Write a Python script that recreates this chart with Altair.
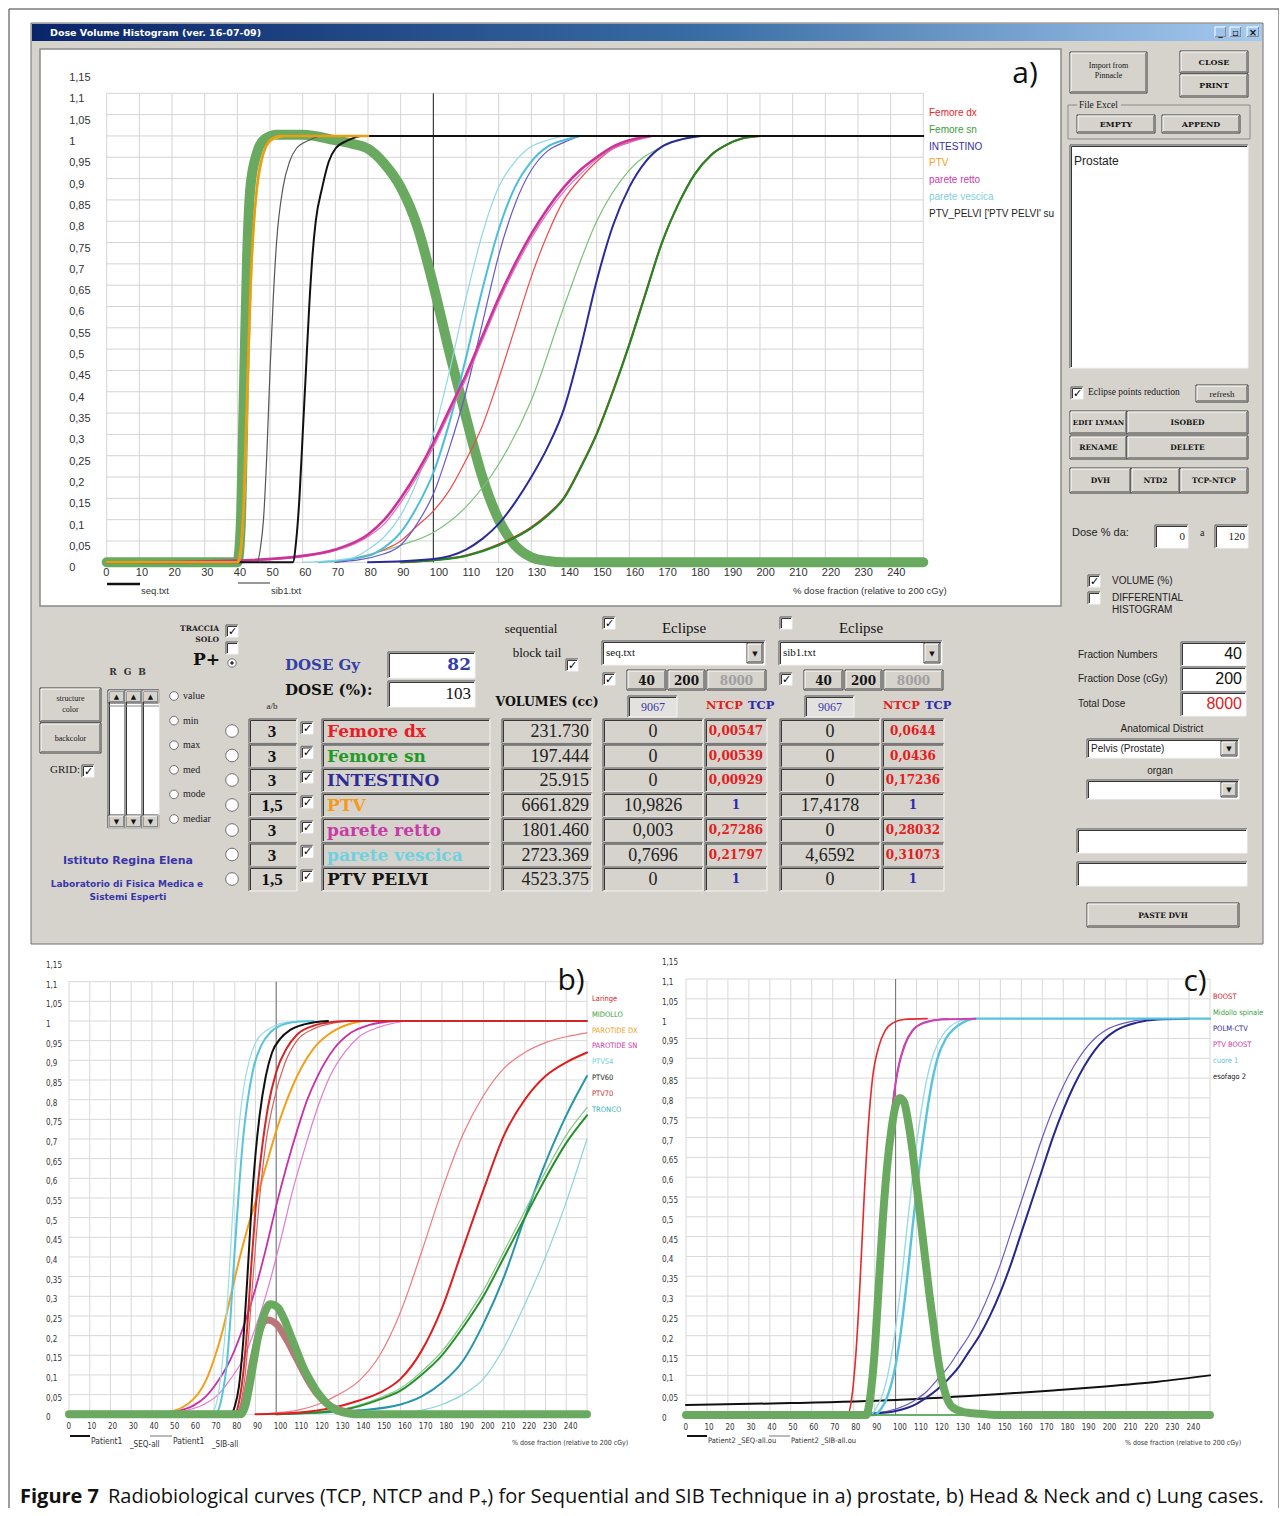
import altair as alt
import pandas as pd

OFF = 8
W, H = 1271, 1500

SANS = "Liberation Sans, Arial, sans-serif"
OPEN = "Open Sans, Liberation Sans, sans-serif"
NARROW = "Liberation Sans Narrow, DejaVu Sans Condensed, Liberation Sans, sans-serif"
SERIF = "Liberation Serif, Times New Roman, serif"
DSERIF = "DejaVu Serif, serif"
DSANS = "DejaVu Sans, sans-serif"
BG = "#d6d3cd"

# ------------------------------------------------------------------ DATA
X_TICKS = [0, 10, 20, 30, 40, 50, 60, 70, 80, 90, 100, 110, 120, 130, 140, 150,
           160, 170, 180, 190, 200, 210, 220, 230, 240]
GRID_X = X_TICKS + [250]
Y_TICKS = [0, 0.05, 0.1, 0.15, 0.2, 0.25, 0.3, 0.35, 0.4, 0.45, 0.5, 0.55, 0.6,
           0.65, 0.7, 0.75, 0.8, 0.85, 0.9, 0.95, 1.0, 1.05, 1.1, 1.15]
Y_LABELS = ["0", "0,05", "0,1", "0,15", "0,2", "0,25", "0,3", "0,35", "0,4", "0,45",
            "0,5", "0,55", "0,6", "0,65", "0,7", "0,75", "0,8", "0,85", "0,9", "0,95",
            "1", "1,05", "1,1", "1,15"]
GRID_Y = Y_TICKS[:-1]

# ---- panel a) prostate
A_PPLUS = [(0, 0), (40, 0), (41, 0.08), (42, 0.4), (43, 0.72), (44, 0.88), (46, 0.96), (48, 0.99),
           (52, 1.003), (60, 1.003), (70, 0.99), (75, 0.982), (80, 0.97), (85, 0.935), (90, 0.88),
           (95, 0.79), (100, 0.65), (105, 0.49), (110, 0.34), (115, 0.2), (120, 0.1), (125, 0.04),
           (130, 0.012), (135, 0.003), (140, 0), (250, 0)]
A_PTV_SEQ = [(0, 0), (40, 0), (41, 0.03), (42, 0.15), (43, 0.4), (44, 0.64), (45, 0.79), (46, 0.88),
             (48, 0.96), (50, 0.99), (53, 1.0), (80, 1.0)]
A_PTV_SIB = [(0, 0), (40.5, 0), (41.5, 0.05), (42.5, 0.2), (43.5, 0.47), (44.5, 0.7), (45.5, 0.83),
             (47, 0.92), (49, 0.975), (52, 0.995), (56, 1.0), (70, 1.0)]
A_PELVI_SIB = [(0, 0), (46, 0), (47, 0.03), (48, 0.1), (49, 0.25), (50, 0.45), (51, 0.62), (52, 0.75),
               (54, 0.88), (56, 0.94), (58, 0.97), (62, 0.99), (66, 1.0), (80, 1.0)]
A_PELVI_SEQ = [(0, 0), (57, 0), (58, 0.05), (59, 0.15), (60, 0.3), (61, 0.45), (62, 0.6), (63, 0.72),
               (64, 0.8), (66, 0.88), (68, 0.94), (70, 0.97), (74, 0.99), (78, 1.0), (250, 1.0)]
A_RET_SEQ = [(10, 0), (40, 0.004), (60, 0.015), (70, 0.03), (80, 0.065), (85, 0.1), (90, 0.15),
             (95, 0.21), (100, 0.28), (105, 0.36), (110, 0.44), (115, 0.53), (120, 0.62), (125, 0.7),
             (130, 0.77), (135, 0.83), (140, 0.88), (145, 0.92), (150, 0.95), (155, 0.975),
             (160, 0.99), (166, 1.0)]
A_RET_SIB = [(12, 0), (40, 0.003), (60, 0.013), (70, 0.027), (80, 0.06), (85, 0.09), (90, 0.14),
             (95, 0.2), (100, 0.27), (105, 0.35), (110, 0.43), (115, 0.52), (120, 0.61), (125, 0.69),
             (130, 0.76), (135, 0.82), (140, 0.87), (145, 0.91), (150, 0.945), (155, 0.97),
             (160, 0.985), (168, 1.0)]
A_VES_SIB = [(60, 0), (75, 0.01), (80, 0.03), (85, 0.06), (90, 0.11), (95, 0.19), (100, 0.3),
             (105, 0.45), (110, 0.62), (115, 0.77), (120, 0.88), (125, 0.94), (130, 0.975),
             (135, 0.99), (140, 1.0)]
A_VES_SEQ = [(65, 0), (80, 0.015), (85, 0.035), (90, 0.07), (95, 0.13), (100, 0.21), (105, 0.33),
             (110, 0.48), (115, 0.64), (120, 0.78), (125, 0.88), (130, 0.94), (135, 0.975),
             (140, 0.99), (145, 1.0)]
A_INT_SIB = [(70, 0), (85, 0.02), (90, 0.04), (95, 0.09), (100, 0.16), (105, 0.27), (110, 0.4),
             (115, 0.56), (120, 0.72), (125, 0.84), (130, 0.92), (135, 0.965), (140, 0.985),
             (145, 1.0)]
A_INT_SEQ = [(80, 0), (100, 0.008), (110, 0.03), (115, 0.055), (120, 0.09), (125, 0.14), (130, 0.2),
             (135, 0.27), (140, 0.36), (145, 0.5), (150, 0.66), (155, 0.79), (160, 0.88),
             (165, 0.94), (170, 0.975), (175, 0.99), (182, 1.0)]
A_FEMDX_SIB = [(70, 0), (85, 0.03), (90, 0.05), (95, 0.085), (100, 0.12), (105, 0.17), (110, 0.24),
               (115, 0.32), (120, 0.43), (125, 0.55), (130, 0.67), (135, 0.77), (140, 0.85),
               (145, 0.9), (150, 0.94), (155, 0.97), (160, 0.985), (166, 1.0)]
A_FEMSN_SIB = [(70, 0), (90, 0.04), (100, 0.07), (110, 0.13), (120, 0.23), (130, 0.38), (140, 0.6),
               (150, 0.8), (160, 0.92), (170, 0.975), (180, 1.0)]
A_FEMDX_SEQ = [(90, 0), (100, 0.005), (110, 0.016), (120, 0.042), (130, 0.082), (135, 0.112),
               (140, 0.152), (145, 0.222), (150, 0.302), (155, 0.402), (160, 0.512), (165, 0.632),
               (170, 0.75), (175, 0.84), (180, 0.91), (185, 0.955), (190, 0.98), (195, 0.995),
               (200, 1.0)]
A_FEMSN_SEQ = [(90, 0), (100, 0.005), (110, 0.015), (120, 0.04), (130, 0.08), (135, 0.11),
               (140, 0.15), (145, 0.22), (150, 0.3), (155, 0.4), (160, 0.51), (165, 0.63),
               (170, 0.75), (175, 0.84), (180, 0.91), (185, 0.955), (190, 0.98), (195, 0.995),
               (200, 1.0)]

# ---- panel b) head & neck
B_PTV54_SIB = [(0, 0), (68, 0), (70, 0.01), (72, 0.05), (74, 0.13), (76, 0.25), (78, 0.42), (80, 0.6),
               (82, 0.73), (84, 0.82), (87, 0.9), (90, 0.945), (95, 0.975), (100, 0.99),
               (107, 0.998), (115, 1.0)]
B_PTV54_SEQ = [(0, 0), (70, 0), (72, 0.01), (74, 0.05), (76, 0.12), (78, 0.25), (80, 0.42),
               (82, 0.57), (84, 0.7), (86, 0.79), (89, 0.88), (93, 0.94), (97, 0.97), (102, 0.988),
               (110, 0.998), (118, 1.0)]
B_PTV60 = [(0, 0), (78, 0), (80, 0.02), (82, 0.07), (84, 0.18), (86, 0.34), (88, 0.52), (90, 0.66),
           (92, 0.76), (95, 0.86), (98, 0.92), (102, 0.955), (107, 0.978), (114, 0.992), (125, 1.0)]
B_PTV70_SEQ = [(0, 0), (80, 0), (82, 0.03), (84, 0.1), (86, 0.22), (88, 0.38), (90, 0.52), (93, 0.67),
               (96, 0.78), (100, 0.87), (105, 0.93), (110, 0.965), (118, 0.988), (128, 0.998),
               (135, 1.0), (250, 1.0)]
B_PTV70_SIB = [(0, 0), (81, 0), (83, 0.03), (85, 0.1), (87, 0.22), (89, 0.36), (92, 0.55), (95, 0.69),
               (99, 0.8), (104, 0.89), (110, 0.95), (118, 0.98), (128, 0.995), (138, 1.0)]
B_PAROT_DX = [(38, 0), (50, 0.008), (57, 0.025), (62, 0.05), (66, 0.085), (70, 0.14), (74, 0.21),
              (78, 0.3), (82, 0.39), (86, 0.47), (90, 0.54), (95, 0.63), (100, 0.72), (106, 0.81),
              (112, 0.88), (118, 0.93), (125, 0.965), (133, 0.988), (142, 1.0)]
B_PAROT_SN_SEQ = [(38, 0), (50, 0.006), (60, 0.022), (66, 0.045), (72, 0.085), (78, 0.14), (84, 0.22),
                  (90, 0.32), (95, 0.42), (100, 0.53), (105, 0.63), (110, 0.72), (115, 0.8),
                  (120, 0.86), (128, 0.93), (136, 0.97), (145, 0.99), (157, 1.0)]
B_PAROT_SN_SIB = [(42, 0), (55, 0.008), (65, 0.025), (72, 0.05), (78, 0.09), (84, 0.14), (90, 0.22),
                  (96, 0.32), (102, 0.44), (108, 0.57), (114, 0.68), (120, 0.78), (126, 0.86),
                  (133, 0.92), (140, 0.96), (150, 0.985), (163, 1.0)]
B_LARINGE_SIB = [(90, 0), (100, 0.004), (110, 0.01), (120, 0.025), (130, 0.05), (140, 0.085),
                 (150, 0.15), (160, 0.26), (170, 0.41), (180, 0.57), (190, 0.71), (200, 0.81),
                 (210, 0.88), (220, 0.92), (230, 0.945), (240, 0.96), (250, 0.97)]
B_LARINGE_SEQ = [(90, 0), (110, 0.004), (120, 0.01), (130, 0.02), (140, 0.035), (150, 0.055),
                 (160, 0.09), (170, 0.16), (180, 0.27), (190, 0.42), (200, 0.57), (210, 0.71),
                 (220, 0.8), (230, 0.86), (240, 0.895), (250, 0.92)]
B_TRONCO_SEQ = [(100, 0), (120, 0.004), (140, 0.01), (160, 0.025), (170, 0.045), (180, 0.08),
                (190, 0.135), (200, 0.23), (210, 0.35), (220, 0.5), (230, 0.64), (240, 0.76),
                (250, 0.86)]
B_TRONCO_SIB = [(150, 0), (170, 0.01), (180, 0.025), (190, 0.05), (200, 0.09), (210, 0.17),
                (220, 0.28), (230, 0.4), (240, 0.54), (250, 0.7)]
B_MIDOLLO_SEQ = [(100, 0), (120, 0.005), (133, 0.012), (150, 0.038), (160, 0.06), (170, 0.1),
                 (180, 0.15), (190, 0.22), (200, 0.3), (210, 0.4), (220, 0.5), (230, 0.6),
                 (240, 0.69), (250, 0.76)]
B_MIDOLLO_SIB = [(100, 0), (120, 0.006), (133, 0.014), (150, 0.042), (160, 0.066), (170, 0.108),
                 (180, 0.16), (190, 0.232), (200, 0.315), (210, 0.415), (220, 0.517), (230, 0.617),
                 (240, 0.71), (250, 0.78)]
B_PPLUS_SIB = [(0, 0), (82, 0), (84, 0.02), (86, 0.06), (88, 0.12), (90, 0.17), (92, 0.21),
               (94, 0.235), (96, 0.24), (100, 0.23), (105, 0.19), (110, 0.14), (115, 0.09),
               (120, 0.05), (125, 0.025), (130, 0.012), (135, 0.005), (142, 0)]
B_PPLUS_SEQ = [(0, 0), (83, 0), (85, 0.02), (87, 0.07), (89, 0.13), (91, 0.19), (93, 0.235),
               (95, 0.265), (97, 0.28), (99, 0.278), (101, 0.27), (104, 0.24), (107, 0.2),
               (110, 0.16), (113, 0.12), (116, 0.09), (120, 0.055), (124, 0.03), (128, 0.013),
               (133, 0.004), (138, 0), (250, 0)]

# ---- panel c) lung
C_ESOFAGO = [(0, 0.025), (50, 0.03), (100, 0.038), (150, 0.053), (175, 0.062), (200, 0.072),
             (225, 0.084), (250, 0.1)]
C_POLM_SIB = [(45, 0), (90, 0.005), (100, 0.015), (110, 0.04), (115, 0.06), (120, 0.09), (125, 0.12),
              (130, 0.16), (135, 0.2), (140, 0.25), (145, 0.31), (150, 0.38), (155, 0.46),
              (160, 0.54), (165, 0.62), (170, 0.7), (175, 0.77), (180, 0.83), (185, 0.88),
              (190, 0.92), (195, 0.95), (200, 0.97), (210, 0.99), (220, 0.998), (235, 1.0)]
C_POLM_SEQ = [(45, 0), (90, 0.004), (100, 0.01), (110, 0.028), (115, 0.045), (120, 0.065),
              (125, 0.09), (130, 0.12), (135, 0.16), (140, 0.2), (145, 0.25), (150, 0.31),
              (155, 0.38), (160, 0.46), (165, 0.54), (170, 0.62), (175, 0.7), (180, 0.77),
              (185, 0.83), (190, 0.88), (195, 0.92), (200, 0.95), (205, 0.97), (215, 0.99),
              (225, 0.998), (240, 1.0)]
C_CUORE_SIB = [(0, 0), (88, 0), (91, 0.02), (94, 0.055), (97, 0.12), (100, 0.22), (103, 0.35),
               (106, 0.5), (109, 0.64), (112, 0.76), (115, 0.85), (118, 0.91), (122, 0.955),
               (126, 0.98), (131, 0.995), (137, 1.0)]
C_CUORE_SEQ = [(0, 0), (90, 0), (93, 0.015), (96, 0.045), (99, 0.1), (102, 0.19), (105, 0.32),
               (108, 0.47), (111, 0.61), (114, 0.73), (117, 0.83), (120, 0.9), (124, 0.95),
               (128, 0.975), (132, 0.99), (138, 1.0), (250, 1.0)]
C_BOOST = [(0, 0), (77, 0), (79, 0.04), (81, 0.15), (83, 0.33), (85, 0.55), (87, 0.73), (89, 0.85),
           (92, 0.93), (95, 0.97), (99, 0.99), (104, 0.998), (115, 1.0)]
C_PTVBOOST_SIB = [(0, 0), (87.5, 0), (89.5, 0.06), (91.5, 0.2), (93.5, 0.4), (95.5, 0.58),
                  (97.5, 0.72), (99.5, 0.82), (102, 0.89), (105, 0.94), (109, 0.975), (115, 0.993),
                  (125, 1.0)]
C_PTVBOOST_SEQ = [(0, 0), (87, 0), (89, 0.05), (91, 0.17), (93, 0.37), (95, 0.55), (97, 0.7),
                  (99, 0.8), (101, 0.87), (104, 0.93), (108, 0.97), (114, 0.99), (122, 0.998),
                  (138, 1.0)]
C_MIDOLLO = [(0, 0), (250, 0)]
C_PPLUS = [(0, 0), (86, 0), (88, 0.05), (90, 0.16), (92, 0.33), (94, 0.5), (96, 0.63), (98, 0.72),
           (100, 0.78), (102, 0.8), (104, 0.79), (106, 0.74), (108, 0.67), (110, 0.58), (112, 0.49),
           (114, 0.4), (116, 0.31), (118, 0.23), (120, 0.15), (122, 0.09), (124, 0.05),
           (127, 0.02), (132, 0.008), (140, 0.003), (150, 0), (250, 0)]

# ---- legends
A_LEGEND = ["Femore dx", "Femore sn", "INTESTINO", "PTV", "parete retto", "parete vescica",
            "PTV_PELVI ['PTV PELVI' su"]
B_LEGEND = ["Laringe", "MIDOLLO", "PAROTIDE DX", "PAROTIDE SN", "PTV54", "PTV60", "PTV70", "TRONCO"]
C_LEGEND = ["BOOST", "Midollo spinale", "POLM-CTV", "PTV BOOST", "cuore 1", "esofago 2"]

# ---- GUI table values
ORGANS = ["Femore dx", "Femore sn", "INTESTINO", "PTV", "parete retto", "parete vescica", "PTV  PELVI"]
AB = ["3", "3", "3", "1,5", "3", "3", "1,5"]
VOLUMES = ["231.730", "197.444", "25.915", "6661.829", "1801.460", "2723.369", "4523.375"]
SEQ_VAL = ["0", "0", "0", "10,9826", "0,003", "0,7696", "0"]
SEQ_NTCP = ["0,00547", "0,00539", "0,00929", "1", "0,27286", "0,21797", "1"]
SIB_VAL = ["0", "0", "0", "17,4178", "0", "4,6592", "0"]
SIB_NTCP = ["0,0644", "0,0436", "0,17236", "1", "0,28032", "0,31073", "1"]
RADIO_LABELS = ["value", "min", "max", "med", "mode", "mediar"]

# ---- styles (kept apart from the data)
C_RED, C_ORANGE, C_MAG = "#e8262e", "#f2a01c", "#cc3aa6"
ORGAN_COLORS = ["#ea1c24", "#1f9a25", "#2e2a98", "#f59a16", "#c83aa8", "#6fd0e0", "#141414"]
A_LEG_COLORS = [C_RED, "#3aa03a", "#34309c", C_ORANGE, C_MAG, "#7fd0e0", "#222222"]
B_LEG_COLORS = ["#e02030", "#3c9e3c", "#f2a01c", "#c83aa8", "#70cde0", "#222222", "#cc2b2b", "#40b0c0"]
C_LEG_COLORS = ["#e02030", "#3c9e3c", "#2e2a98", "#c83aa8", "#60c8dc", "#222222"]
PPLUS_GREEN = "#6aaa60"

A_SERIES = [
    (A_PPLUS, PPLUS_GREEN, 10),
    (A_FEMDX_SEQ, "#d83030", 2),
    (A_FEMSN_SEQ, "#1c8c22", 2),
    (A_FEMSN_SIB, "#78c278", 1.2),
    (A_FEMDX_SIB, "#f04848", 1.2),
    (A_INT_SEQ, "#2a2a9c", 2),
    (A_INT_SIB, "#6858c8", 1.2),
    (A_VES_SEQ, "#4cbfd8", 2),
    (A_VES_SIB, "#90d8e8", 1.2),
    (A_RET_SIB, "#e070c4", 1.2),
    (A_RET_SEQ, "#cc3399", 2.6),
    (A_PELVI_SIB, "#555555", 1.2),
    (A_PELVI_SEQ, "#111111", 2),
    (A_PTV_SIB, "#f4b840", 1.2),
    (A_PTV_SEQ, "#e8a010", 2.6),
]
B_SERIES = [
    (B_TRONCO_SIB, "#8ad4dc", 1.2),
    (B_TRONCO_SEQ, "#2596aa", 2),
    (B_MIDOLLO_SIB, "#86c686", 1.2),
    (B_MIDOLLO_SEQ, "#23902a", 2),
    (B_LARINGE_SIB, "#f07880", 1.2),
    (B_LARINGE_SEQ, "#e01c1c", 2),
    (B_PAROT_SN_SIB, "#e27ad0", 1.2),
    (B_PAROT_SN_SEQ, "#c830a8", 1.8),
    (B_PAROT_DX, "#f2a01c", 2),
    (B_PTV54_SIB, "#9adbe8", 1.2),
    (B_PTV54_SEQ, "#55c4dc", 2),
    (B_PTV70_SIB, "#d86060", 1.2),
    (B_PTV70_SEQ, "#d02828", 2),
    (B_PTV60, "#111111", 2),
    (B_PPLUS_SIB, "#b87878", 7),
    (B_PPLUS_SEQ, PPLUS_GREEN, 8),
]
C_SERIES = [
    (C_ESOFAGO, "#111111", 2),
    (C_POLM_SIB, "#6a5ac0", 1.2),
    (C_POLM_SEQ, "#26268e", 2),
    (C_CUORE_SIB, "#9adbe8", 1.4),
    (C_CUORE_SEQ, "#55c4dc", 2.4),
    (C_BOOST, "#e8262e", 1.6),
    (C_PTVBOOST_SIB, "#9a40b8", 1.4),
    (C_PTVBOOST_SEQ, "#d040b0", 2),
    (C_MIDOLLO, "#3c9e3c", 1.5),
    (C_PPLUS, PPLUS_GREEN, 8),
]

# ------------------------------------------------------------------ helpers
rects, segs, texts, circles = [], [], [], []


def rect(x1, y1, x2, y2, fill, stroke="transparent", sw=0.0):
    rects.append({"x": x1, "y": y1, "x2": x2, "y2": y2, "fill": fill, "stroke": stroke, "sw": sw})


def seg(x1, y1, x2, y2, color, w=1.0):
    segs.append({"x": x1, "y": y1, "x2": x2, "y2": y2, "c": color, "w": w})


def txt(x, y, t, c="#000000", s=10, font=SANS, weight="normal", align="left"):
    texts.append({"x": x, "y": y, "t": t, "c": c, "s": s, "font": font, "weight": weight,
                  "align": align})


def raised(x1, y1, x2, y2, label=None, size=8, font=DSERIF, weight="bold", color="#151515"):
    rect(x1, y1, x2, y2, BG, "#3c3c3c", 1)
    seg(x1 + 1, y1 + 1, x2 - 1, y1 + 1, "#ffffff")
    seg(x1 + 1, y1 + 1, x1 + 1, y2 - 1, "#ffffff")
    seg(x1 + 1, y2 - 1.5, x2 - 1, y2 - 1.5, "#8a8a8a")
    seg(x2 - 1.5, y1 + 1, x2 - 1.5, y2 - 1, "#8a8a8a")
    if label is not None:
        txt((x1 + x2) / 2, (y1 + y2) / 2 + 0.5, label, color, size, font, weight, "center")


def sunken(x1, y1, x2, y2, fill="#ffffff"):
    rect(x1, y1, x2, y2, fill)
    seg(x1, y1, x2, y1, "#7a7a7a", 1.5)
    seg(x1, y1, x1, y2, "#7a7a7a", 1.5)
    seg(x1 + 1.5, y1 + 1.5, x2 - 1, y1 + 1.5, "#363636", 1)
    seg(x1 + 1.5, y1 + 1.5, x1 + 1.5, y2 - 1, "#363636", 1)
    seg(x1, y2, x2, y2, "#f4f4f4", 1)
    seg(x2, y1, x2, y2, "#f4f4f4", 1)


def check(x, y, on):
    sunken(x, y, x + 12, y + 12)
    if on:
        txt(x + 6.5, y + 6.5, "✓", "#000000", 11, DSANS, "bold", "center")


def radio(x, y, on=False, s=110):
    circles.append({"x": x, "y": y, "s": s, "f": "#ffffff"})
    if on:
        circles.append({"x": x, "y": y, "s": 8, "f": "#000000"})


def dropdown(x1, y1, x2, y2, label):
    sunken(x1, y1, x2, y2)
    raised(x2 - 18, y1 + 2, x2 - 2, y2 - 2, "▼", 7, DSANS, "normal")
    if label:
        txt(x1 + 4, (y1 + y2) / 2, label, "#111111", 11, SERIF)


# ------------------------------------------------------------------ GUI window
rect(9, 9, 1279, 1530, "#ffffff", "#3a3a3a", 1)
rect(31, 23, 1263, 944, BG, "#707070", 1)
rect(40, 49, 1061, 606, "#ffffff", "#8a8a8a", 1.5)
txt(50, 32.5, "Dose Volume Histogram (ver. 16-07-09)", "#ffffff", 9.5, DSANS, "bold")
raised(1214, 26, 1227, 38, "_", 9, DSANS)
raised(1229, 26, 1242, 38, "▫", 10, DSANS)
raised(1246, 26, 1260, 38, "×", 10, DSANS)

# right column
raised(1070, 52, 1147, 93)
txt(1108.5, 66, "Import from", "#151515", 8, SERIF, "normal", "center")
txt(1108.5, 76, "Pinnacle", "#151515", 8, SERIF, "normal", "center")
raised(1180, 51, 1248, 73, "CLOSE", 8)
raised(1180, 74, 1248, 97, "PRINT", 8)
rect(1068, 105, 1250, 139, "transparent", "#8a8a8a", 1)
rect(1077, 99, 1121, 111, BG)
txt(1079, 105, "File Excel", "#151515", 9.5, SERIF)
raised(1077, 115, 1155, 133, "EMPTY", 8)
raised(1162, 115, 1240, 133, "APPEND", 8)
sunken(1070, 145, 1248, 368)
txt(1074, 161, "Prostate", "#222222", 12, SANS)
check(1071, 387, True)
txt(1088, 392, "Eclipse points reduction", "#151515", 9.5, SERIF)
raised(1196, 385, 1248, 402, "refresh", 9, SERIF, "normal")
raised(1070, 411, 1127, 434, "EDIT LYMAN", 7)
raised(1127, 411, 1248, 434, "ISOBED", 7.5)
raised(1070, 436, 1127, 459, "RENAME", 7.5)
raised(1127, 436, 1248, 459, "DELETE", 7.5)
raised(1070, 468, 1131, 493, "DVH", 7.5)
raised(1131, 468, 1180, 493, "NTD2", 7.5)
raised(1180, 468, 1248, 493, "TCP-NTCP", 7.5)
txt(1072, 533, "Dose % da:", "#222222", 11, SANS)
sunken(1155, 525, 1188, 548)
txt(1185, 537, "0", "#222222", 11, SERIF, "normal", "right")
txt(1200, 533, "a", "#222222", 10, SERIF)
sunken(1215, 525, 1248, 548)
txt(1245, 537, "120", "#222222", 11, SERIF, "normal", "right")
check(1088, 575, True)
txt(1112, 581, "VOLUME (%)", "#222222", 10, SANS)
check(1088, 592, False)
txt(1112, 598, "DIFFERENTIAL", "#222222", 10, SANS)
txt(1112, 610, "HISTOGRAM", "#222222", 10, SANS)

txt(1078, 655, "Fraction Numbers", "#222222", 10, SANS)
sunken(1181, 642, 1246, 666)
txt(1242, 654, "40", "#111111", 16, SANS, "normal", "right")
txt(1078, 679, "Fraction Dose (cGy)", "#222222", 10, SANS)
sunken(1181, 667, 1246, 691)
txt(1242, 679, "200", "#111111", 16, SANS, "normal", "right")
txt(1078, 704, "Total Dose", "#222222", 10, SANS)
sunken(1181, 692, 1246, 716)
txt(1242, 704, "8000", "#e02020", 16, SANS, "normal", "right")
txt(1162, 729, "Anatomical District", "#222222", 10, SANS, "normal", "center")
dropdown(1087, 739, 1239, 758, None)
txt(1091, 748.5, "Pelvis (Prostate)", "#222222", 10, SANS)
txt(1160, 771, "organ", "#222222", 10, SANS, "normal", "center")
dropdown(1087, 780, 1239, 799, None)
sunken(1077, 829, 1247, 853)
sunken(1077, 862, 1247, 886)
raised(1087, 903, 1239, 927, "PASTE DVH", 7.5)

# left controls
txt(219, 629, "TRACCIA", "#222222", 7.5, DSERIF, "bold", "right")
txt(219, 640, "SOLO", "#222222", 7.5, DSERIF, "bold", "right")
check(226, 625, True)
check(226, 642, False)
txt(193, 660, "P+", "#111111", 17, DSERIF, "bold")
radio(232, 663, True, 70)
for i, ch in enumerate(["R", "G", "B"]):
    txt(113 + 14.5 * i, 672, ch, "#333333", 9, DSERIF, "bold", "center")
raised(40, 688, 101, 722)
txt(70.5, 699, "structure", "#222222", 8, SERIF, "normal", "center")
txt(70.5, 710, "color", "#222222", 8, SERIF, "normal", "center")
raised(40, 723, 101, 753, "backcolor", 8, SERIF, "normal")
txt(50, 770, "GRID:", "#222222", 11, SERIF)
check(82, 765, True)
for i in range(3):
    xa = 108 + 17 * i
    sunken(xa, 690, xa + 17, 828)
    raised(xa, 690, xa + 17, 703, "▲", 7, DSANS, "normal")
    seg(xa, 706, xa + 17, 706, "#888888", 1)
    raised(xa, 815, xa + 17, 828, "▼", 7, DSANS, "normal")
for i, lab in enumerate(RADIO_LABELS):
    yy = 696 + 24.6 * i
    radio(174, yy, False, 75)
    txt(183, yy, lab, "#222222", 10, SERIF)
txt(128, 861, "Istituto Regina Elena", "#3a36a8", 11, DSANS, "bold", "center")
txt(127, 884, "Laboratorio di Fisica Medica e", "#3a36a8", 9, DSANS, "bold", "center")
txt(128, 897, "Sistemi Esperti", "#3a36a8", 9, DSANS, "bold", "center")

txt(285, 665, "DOSE Gy", "#3440a8", 15, DSERIF, "bold")
sunken(388, 652, 475, 678)
txt(471, 665, "82", "#3440a8", 17, DSERIF, "bold", "right")
txt(285, 690, "DOSE (%):", "#111111", 15, DSERIF, "bold")
sunken(388, 681, 475, 707)
txt(471, 694, "103", "#111111", 17, SERIF, "normal", "right")
txt(272, 706, "a/b", "#222222", 9, SERIF, "normal", "center")

txt(547, 702, "VOLUMES (cc)", "#111111", 12.5, DSERIF, "bold", "center")
txt(531, 629, "sequential", "#111111", 13, SERIF, "normal", "center")
txt(537, 653, "block tail", "#111111", 13, SERIF, "normal", "center")
check(566, 659, True)

for gx, name, chk in [(603, "seq.txt", True), (780, "sib1.txt", False)]:
    check(gx, 617, chk)
    txt(gx + 81, 628, "Eclipse", "#111111", 15, SERIF, "normal", "center")
    dropdown(gx - 1, 641, gx + 162, 665, name)
    check(gx, 673, True)
    raised(gx + 24, 670, gx + 63, 690, "40", 12, DSERIF)
    raised(gx + 65, 670, gx + 102, 690, "200", 12, DSERIF)
    raised(gx + 104, 670, gx + 163, 690, "8000", 12, DSERIF, "bold", "#a0a0a0")
    sunken(gx + 25, 696, gx + 74, 717, "#e4e2de")
    txt(gx + 50, 707, "9067", "#3a3aa8", 12, SERIF, "normal", "center")
    txt(gx + 103, 706, "NTCP", "#e02020", 11.5, DSERIF, "bold")
    txt(gx + 145, 706, "TCP", "#2a2ab0", 11.5, DSERIF, "bold")

ROW_Y = [731, 755.5, 780, 805, 830, 854.5, 879]
for i, yy in enumerate(ROW_Y):
    radio(232, yy, False, 160)
    sunken(249, yy - 12, 297, yy + 12, BG)
    txt(272, yy + 1, AB[i], "#111111", 17, SERIF, "bold", "center")
    check(301, yy - 9, True)
    sunken(322, yy - 12, 490, yy + 12, BG)
    txt(327, yy + 1, ORGANS[i], ORGAN_COLORS[i], 17, DSERIF, "bold")
    sunken(502, yy - 12, 592, yy + 12, BG)
    txt(589, yy + 1, VOLUMES[i], "#222222", 18, SERIF, "normal", "right")
    for gx, vals, ntcp in [(603, SEQ_VAL, SEQ_NTCP), (780, SIB_VAL, SIB_NTCP)]:
        sunken(gx, yy - 12, gx + 100, yy + 12, BG)
        txt(gx + 50, yy + 1, vals[i], "#222222", 18, SERIF, "normal", "center")
        sunken(gx + 102, yy - 12, gx + 164, yy + 12, BG)
        col = "#2a2ab0" if ntcp[i] == "1" else "#e41c1c"
        txt(gx + 133, yy, ntcp[i], col, 12, DSERIF, "bold", "center")

# panel a extras
txt(1025, 74, "a)", "#111111", 30, OPEN, "normal", "center")
for i, lab in enumerate(A_LEGEND):
    txt(929, 113 + 16.8 * i, lab, A_LEG_COLORS[i], 10, SANS)
seg(107, 584, 140, 584, "#111111", 2.5)
txt(141, 591, "seq.txt", "#333333", 9.5, SANS)
seg(238, 583, 270, 583, "#777777", 1.5)
txt(271, 591, "sib1.txt", "#333333", 9.5, SANS)
txt(793, 591, "% dose fraction (relative to 200 cGy)", "#333333", 9.5, SANS)

# panel b extras
txt(571, 981, "b)", "#111111", 30, OPEN, "normal", "center")
for i, lab in enumerate(B_LEGEND):
    txt(592, 999 + 15.8 * i, lab, B_LEG_COLORS[i], 7.5, NARROW)
seg(70, 1436, 90, 1436, "#111111", 2)
txt(91, 1441, "Patient1", "#333333", 8.5, NARROW)
txt(130, 1445, "_SEQ-all", "#333333", 8, NARROW)
seg(150, 1436, 172, 1436, "#777777", 1)
txt(173, 1441, "Patient1", "#333333", 8.5, NARROW)
txt(212, 1445, "_SIB-all", "#333333", 8, NARROW)
txt(512, 1443, "% dose fraction (relative to 200 cGy)", "#333333", 7, NARROW)

# panel c extras
txt(1195, 982, "c)", "#111111", 30, OPEN, "normal", "center")
for i, lab in enumerate(C_LEGEND):
    txt(1213, 997 + 16 * i, lab, C_LEG_COLORS[i], 7.5, NARROW)
seg(687, 1436, 707, 1436, "#111111", 2)
txt(708, 1441, "Patient2 _SEQ-all.ou", "#333333", 7.5, NARROW)
seg(769, 1436, 790, 1436, "#777777", 1)
txt(791, 1441, "Patient2 _SIB-all.ou", "#333333", 7.5, NARROW)
txt(1125, 1443, "% dose fraction (relative to 200 cGy)", "#333333", 7, NARROW)

# caption
txt(20, 1497, "Figure 7", "#111111", 20, OPEN, "bold")
txt(108, 1497, "Radiobiological curves (TCP, NTCP and P₊) for Sequential and SIB Technique in "
               "a) prostate, b) Head & Neck and c) Lung cases.", "#111111", 20, OPEN)

# ------------------------------------------------------------------ build layers
PX = alt.Scale(domain=[OFF, OFF + W], range=[0, W], nice=False, zero=False)
PY = alt.Scale(domain=[OFF, OFF + H], range=[0, H], nice=False, zero=False)


def pxx(f="x"):
    return alt.X(f"{f}:Q", scale=PX, axis=None)


def pyy(f="y"):
    return alt.Y(f"{f}:Q", scale=PY, axis=None)


deco_bottom = []
rdf = pd.DataFrame(rects)
deco_bottom.append(alt.Chart(rdf).mark_rect().encode(
    x=pxx(), x2=alt.X2("x2:Q"), y=pyy(), y2=alt.Y2("y2:Q"),
    fill=alt.Fill("fill:N", scale=None), stroke=alt.Stroke("stroke:N", scale=None),
    strokeWidth=alt.StrokeWidth("sw:Q", scale=None)))
title_df = pd.DataFrame([{"x": 32, "y": 24, "x2": 1262, "y2": 41}])
deco_bottom.append(alt.Chart(title_df).mark_rect(
    fill={"gradient": "linear", "x1": 0, "x2": 1, "y1": 0, "y2": 0,
          "stops": [{"offset": 0, "color": "#0a246a"}, {"offset": 0.55, "color": "#3a6ea5"},
                    {"offset": 1, "color": "#a6caf0"}]}).encode(
    x=pxx(), x2=alt.X2("x2:Q"), y=pyy(), y2=alt.Y2("y2:Q")))
sdf = pd.DataFrame(segs)
deco_bottom.append(alt.Chart(sdf).mark_rule().encode(
    x=pxx(), x2=alt.X2("x2:Q"), y=pyy(), y2=alt.Y2("y2:Q"),
    color=alt.Color("c:N", scale=None), strokeWidth=alt.StrokeWidth("w:Q", scale=None)))

deco_top = []
cdf = pd.DataFrame(circles)
deco_top.append(alt.Chart(cdf).mark_circle(stroke="#707070", strokeWidth=1, opacity=1).encode(
    x=pxx(), y=pyy(), size=alt.Size("s:Q", scale=None), fill=alt.Fill("f:N", scale=None)))
tdf = pd.DataFrame(texts)
for (font, weight, align), g in tdf.groupby(["font", "weight", "align"]):
    deco_top.append(alt.Chart(g.reset_index(drop=True)).mark_text(
        font=font, fontWeight=weight, align=align, baseline="middle").encode(
        x=pxx(), y=pyy(), text="t:N", color=alt.Color("c:N", scale=None),
        size=alt.Size("s:Q", scale=None)))


def panel(xr, yr, series, lab_font, lab_size, ylab_dx, ylab_dy, xlab_dx, xlab_dy,
          grid_color, marker_color):
    xs = alt.Scale(domain=[0, 250], range=[xr[0] - OFF, xr[1] - OFF], nice=False, zero=False)
    ys = alt.Scale(domain=[0, 1.15], range=[yr[0] - OFF, yr[1] - OFF], nice=False, zero=False)

    def X(f="x"):
        return alt.X(f"{f}:Q", scale=xs, axis=None)

    def Y(f="y"):
        return alt.Y(f"{f}:Q", scale=ys, axis=None)

    layers = []
    gxdf = pd.DataFrame({"x": GRID_X, "y": [0.0] * len(GRID_X), "y2": [1.1] * len(GRID_X)})
    layers.append(alt.Chart(gxdf).mark_rule(color=grid_color, strokeWidth=1).encode(
        x=X(), y=Y(), y2=alt.Y2("y2:Q")))
    gydf = pd.DataFrame({"y": GRID_Y, "x": [0.0] * len(GRID_Y), "x2": [250.0] * len(GRID_Y)})
    layers.append(alt.Chart(gydf).mark_rule(color=grid_color, strokeWidth=1).encode(
        y=Y(), x=X(), x2=alt.X2("x2:Q")))
    mdf = pd.DataFrame({"x": [100.0], "y": [0.0], "y2": [1.1]})
    layers.append(alt.Chart(mdf).mark_rule(color=marker_color, strokeWidth=1).encode(
        x=X(), y=Y(), y2=alt.Y2("y2:Q")))
    yl = pd.DataFrame({"y": Y_TICKS, "t": Y_LABELS, "x": [0.0] * len(Y_TICKS)})
    layers.append(alt.Chart(yl).mark_text(align="left", baseline="middle", font=lab_font,
                                          fontSize=lab_size, color="#333333",
                                          dx=ylab_dx, dy=ylab_dy).encode(
        x=X(), y=Y(), text="t:N"))
    xl = pd.DataFrame({"x": X_TICKS, "t": [str(v) for v in X_TICKS], "y": [0.0] * len(X_TICKS)})
    layers.append(alt.Chart(xl).mark_text(align="left", baseline="middle", font=lab_font,
                                          fontSize=lab_size, color="#333333",
                                          dx=xlab_dx, dy=xlab_dy).encode(
        x=X(), y=Y(), text="t:N"))
    for pts, color, width in series:
        df = pd.DataFrame(pts, columns=["x", "y"])
        df["o"] = list(range(len(df)))
        layers.append(alt.Chart(df).mark_line(
            color=color, strokeWidth=width, interpolate="monotone",
            strokeCap="round", strokeJoin="round").encode(x=X(), y=Y(), order="o:Q"))
    return layers


panel_a = panel((106.7, 923.3), (562.3, 72.0), A_SERIES, SANS, 11, -37.5, 6, -3.5, 11,
                "#d4d4d4", "#222222")
panel_b = panel((69.0, 587.0), (1414.3, 962.0), B_SERIES, NARROW, 8, -23, 4, -2.5, 13,
                "#d8d8d8", "#707070")
panel_c = panel((686.0, 1210.0), (1415.0, 959.2), C_SERIES, NARROW, 8, -24, 4, -2.5, 13,
                "#d8d8d8", "#707070")

chart = alt.layer(*(deco_bottom + panel_a + panel_b + panel_c + deco_top)).resolve_scale(
    x="independent", y="independent").properties(
    width=W, height=H, padding=0, background="#ffffff",
    autosize=alt.AutoSizeParams(type="none")).configure_view(stroke=None)

chart.save("out.html", embed_options={"renderer": "svg", "actions": False})
